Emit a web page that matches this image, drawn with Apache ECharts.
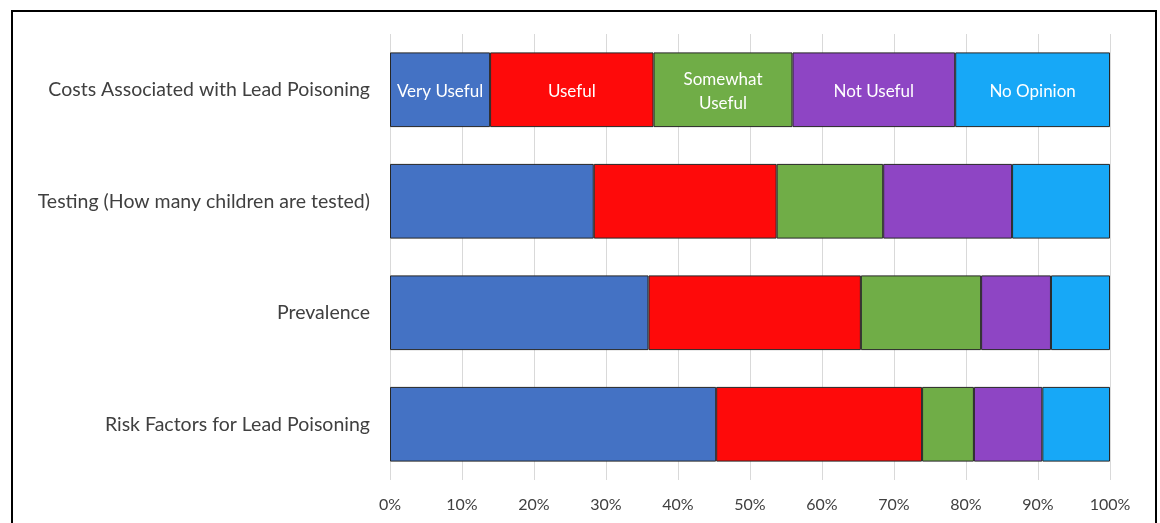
<!DOCTYPE html>
<html>
<head>
<meta charset="utf-8">
<script src="https://cdn.jsdelivr.net/npm/echarts@6/dist/echarts.min.js"></script>
<style>
html,body{margin:0;padding:0;background:#fff;}
#frame{position:absolute;left:11px;top:10px;width:1146px;height:530px;border:2px solid #000;box-sizing:border-box;}
#chart{position:absolute;left:0;top:0;width:1160px;height:523px;}
</style>
</head>
<body>
<div id="frame"></div>
<div id="chart"></div>
<script>
const categories = ["Costs Associated with Lead Poisoning", "Testing (How many children are tested)", "Prevalence", "Risk Factors for Lead Poisoning"];
const seriesNames = ["Very Useful", "Useful", "Somewhat\nUseful", "Not Useful", "No Opinion"];
const veryUseful = [13.9, 28.3, 35.9, 45.3];
const useful = [22.7, 25.4, 29.5, 28.6];
const somewhatUseful = [19.3, 14.8, 16.7, 7.2];
const notUseful = [22.6, 17.9, 9.7, 9.5];
const noOpinion = [21.5, 13.6, 8.2, 9.4];
const tickLabels = ["0%", "10%", "20%", "30%", "40%", "50%", "60%", "70%", "80%", "90%", "100%"];

const colors = ["#4472C4", "#FE0A0A", "#70AD47", "#8E45C4", "#17A8F7"];
const allValues = [veryUseful, useful, somewhatUseful, notUseful, noOpinion];

const chart = echarts.init(document.getElementById('chart'), null, {renderer: 'canvas'});
const series = allValues.map((vals, i) => ({
  name: seriesNames[i],
  type: 'bar',
  stack: 'total',
  barCategoryGap: '33%',
  itemStyle: {color: colors[i], borderColor: '#262626', borderWidth: 1},
  data: vals.map((v, j) => ({
    value: v,
    label: {
      show: j === 0,
      position: 'inside',
      offset: [0, 2],
      formatter: seriesNames[i],
      color: '#ffffff',
      fontFamily: 'Lato',
      fontSize: 17,
      lineHeight: 24
    }
  }))
}));

chart.setOption({
  animation: false,
  grid: {left: 390, right: 50, top: 34, bottom: 43, containLabel: false},
  xAxis: {
    type: 'value',
    min: 0, max: 100, interval: 10,
    axisLine: {show: false},
    axisTick: {show: false},
    splitLine: {show: true, lineStyle: {color: '#d9d9d9', width: 1}},
    axisLabel: {
      formatter: v => tickLabels[Math.round(v / 10)],
      color: '#404040', fontFamily: 'Lato', fontSize: 16, margin: 17
    }
  },
  yAxis: {
    type: 'category',
    inverse: true,
    data: categories,
    axisLine: {show: false},
    axisTick: {show: false},
    axisLabel: {color: '#404040', fontFamily: 'Lato', fontSize: 19.5, margin: 20}
  },
  series: series
});
</script>
</body>
</html>
